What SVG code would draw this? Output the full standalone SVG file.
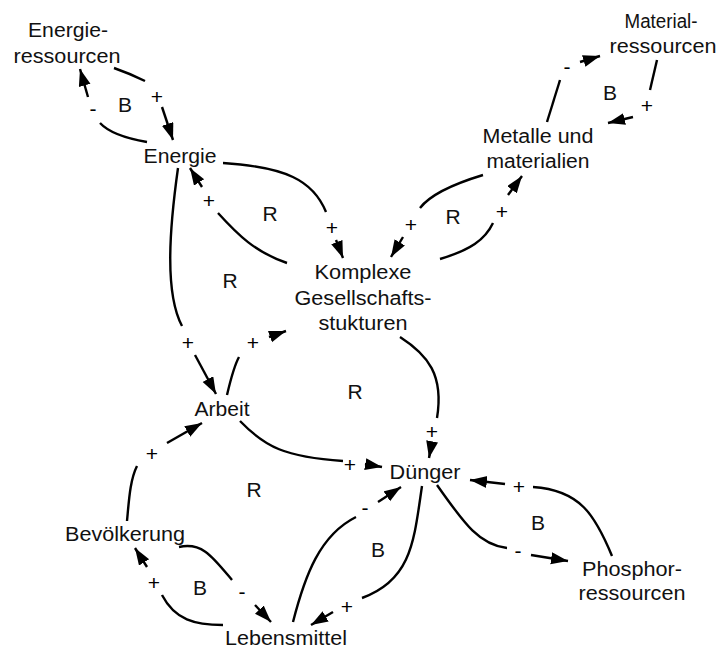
<svg xmlns="http://www.w3.org/2000/svg" width="719" height="648" viewBox="0 0 719 648">
  <defs>
    <marker id="arrow" markerUnits="userSpaceOnUse" markerWidth="19" markerHeight="13" refX="17" refY="6" orient="auto">
      <path d="M0,0 L17,6 L0,12 Z" fill="#000"/>
    </marker>
    <style>
      .node text { font-family: "Liberation Sans", Arial, sans-serif; font-size: 20px; fill: #111; text-anchor: middle; }
      .loop { font-family: "Liberation Sans", Arial, sans-serif; font-size: 21px; fill: #111; text-anchor: middle; }
      .pol { font-family: "Liberation Sans", Arial, sans-serif; font-size: 21px; fill: #000; text-anchor: middle; }
      .edge { fill: none; stroke: #000; stroke-width: 2.4; }
      .tip { fill: none; stroke: #000; stroke-width: 2.4; marker-end: url(#arrow); }
    </style>
  </defs>
  <rect width="719" height="648" fill="#fff"/>

  <!-- connectors: each one is a stroke, a polarity sign, then the arrow -->
  <g id="connectors">
    <!-- Energieressourcen -> Energie -->
    <path class="edge" d="M114,68 Q131,74 145,81"/>
    <text class="pol" x="157" y="104">+</text>
    <path class="tip" d="M162,107 L173,140"/>
    <!-- Energie -> Energieressourcen -->
    <path class="edge" d="M147,142 Q112,136 100,123"/>
    <text class="pol" x="93" y="116">-</text>
    <path class="tip" d="M88,97 L80,69"/>
    <!-- Energie -> Komplexe -->
    <path class="edge" d="M223,163 C285,167 313,180 326,212"/>
    <text class="pol" x="332" y="235">+</text>
    <path class="tip" d="M336,240 L343,258"/>
    <!-- Komplexe -> Energie -->
    <path class="edge" d="M287,263 C255,252 238,235 218,213"/>
    <text class="pol" x="209" y="208">+</text>
    <path class="tip" d="M202,187 L190,168"/>
    <!-- Energie -> Arbeit -->
    <path class="edge" d="M178,168 C170,225 164,292 182,326"/>
    <text class="pol" x="188" y="350">+</text>
    <path class="tip" d="M195,355 L216,394"/>
    <!-- Arbeit -> Komplexe -->
    <path class="edge" d="M227,395 C231,378 234,366 239,357"/>
    <text class="pol" x="253" y="350">+</text>
    <path class="tip" d="M269,337 L286,331"/>
    <!-- Komplexe -> Duenger -->
    <path class="edge" d="M400,337 C428,355 444,375 437,418"/>
    <text class="pol" x="432" y="439">+</text>
    <path class="tip" d="M432,442 L429,458"/>
    <!-- Arbeit -> Duenger -->
    <path class="edge" d="M240,421 C265,447 285,457 343,461"/>
    <text class="pol" x="350" y="472">+</text>
    <path class="tip" d="M365,464 L382,467"/>
    <!-- Bevoelkerung -> Arbeit -->
    <path class="edge" d="M127,521 C129,500 130,480 137,466"/>
    <text class="pol" x="152" y="461">+</text>
    <path class="tip" d="M167,443 L202,423"/>
    <!-- Bevoelkerung -> Lebensmittel -->
    <path class="edge" d="M179,547 C202,542 212,556 232,580"/>
    <text class="pol" x="242" y="599">-</text>
    <path class="tip" d="M255,605 L271,622"/>
    <!-- Lebensmittel -> Bevoelkerung -->
    <path class="edge" d="M223,625 C195,625 175,620 162,595"/>
    <text class="pol" x="154" y="590">+</text>
    <path class="tip" d="M147,567 L135,548"/>
    <!-- Lebensmittel -> Duenger -->
    <path class="edge" d="M293,622 C305,575 320,535 356,517"/>
    <text class="pol" x="365" y="515">-</text>
    <path class="tip" d="M378,502 L401,487"/>
    <!-- Duenger -> Lebensmittel -->
    <path class="edge" d="M422,486 C414,540 412,580 362,598"/>
    <text class="pol" x="347" y="614">+</text>
    <path class="tip" d="M333,612 L311,625"/>
    <!-- Duenger -> Phosphorressourcen -->
    <path class="edge" d="M437,485 C465,525 480,545 507,548"/>
    <text class="pol" x="518" y="558">-</text>
    <path class="tip" d="M531,555 L568,561"/>
    <!-- Phosphorressourcen -> Duenger -->
    <path class="edge" d="M612,556 C595,515 580,490 533,487"/>
    <text class="pol" x="519" y="494">+</text>
    <path class="tip" d="M505,484 L470,480"/>
    <!-- Metalle -> Komplexe -->
    <path class="edge" d="M483,175 C450,185 430,195 420,208"/>
    <text class="pol" x="411" y="232">+</text>
    <path class="tip" d="M403,237 L391,257"/>
    <!-- Komplexe -> Metalle -->
    <path class="edge" d="M440,259 C470,250 485,240 493,223"/>
    <text class="pol" x="502" y="219">+</text>
    <path class="tip" d="M508,195 L522,176"/>
    <!-- Metalle -> Materialressourcen -->
    <path class="edge" d="M547,122 L560,80"/>
    <text class="pol" x="567" y="74">-</text>
    <path class="tip" d="M580,62 L600,56"/>
    <!-- Materialressourcen -> Metalle -->
    <path class="edge" d="M657,60 L650,90"/>
    <text class="pol" x="647" y="113">+</text>
    <path class="tip" d="M633,117 L608,123"/>
  </g>

  <!-- loop markers -->
  <g id="loops">
    <text class="loop" x="125" y="112">B</text>
    <text class="loop" x="610" y="100">B</text>
    <text class="loop" x="270" y="221">R</text>
    <text class="loop" x="230" y="288">R</text>
    <text class="loop" x="453" y="224">R</text>
    <text class="loop" x="355" y="399">R</text>
    <text class="loop" x="254" y="497">R</text>
    <text class="loop" x="378" y="557">B</text>
    <text class="loop" x="200" y="595">B</text>
    <text class="loop" x="538" y="530">B</text>
  </g>

  <!-- nodes -->
  <g id="energieressourcen" class="node">
    <text x="68" y="37" textLength="80" lengthAdjust="spacingAndGlyphs">Energie-</text>
    <text x="67" y="63" textLength="107" lengthAdjust="spacingAndGlyphs">ressourcen</text>
  </g>
  <g id="energie" class="node">
    <text x="180" y="163" textLength="73" lengthAdjust="spacingAndGlyphs">Energie</text>
  </g>
  <g id="materialressourcen" class="node">
    <text x="661" y="28" textLength="73" lengthAdjust="spacingAndGlyphs">Material-</text>
    <text x="663" y="53" textLength="107" lengthAdjust="spacingAndGlyphs">ressourcen</text>
  </g>
  <g id="metalle" class="node">
    <text x="538" y="143" textLength="111" lengthAdjust="spacingAndGlyphs">Metalle und</text>
    <text x="538" y="168" textLength="103" lengthAdjust="spacingAndGlyphs">materialien</text>
  </g>
  <g id="komplexe" class="node">
    <text x="363" y="279" textLength="97" lengthAdjust="spacingAndGlyphs">Komplexe</text>
    <text x="363" y="305" textLength="137" lengthAdjust="spacingAndGlyphs">Gesellschafts-</text>
    <text x="363" y="330" textLength="89" lengthAdjust="spacingAndGlyphs">stukturen</text>
  </g>
  <g id="arbeit" class="node">
    <text x="222" y="416" textLength="55" lengthAdjust="spacingAndGlyphs">Arbeit</text>
  </g>
  <g id="duenger" class="node">
    <text x="425" y="479" textLength="71" lengthAdjust="spacingAndGlyphs">Dünger</text>
  </g>
  <g id="phosphorressourcen" class="node">
    <text x="632" y="576" textLength="100" lengthAdjust="spacingAndGlyphs">Phosphor-</text>
    <text x="632" y="600" textLength="107" lengthAdjust="spacingAndGlyphs">ressourcen</text>
  </g>
  <g id="bevoelkerung" class="node">
    <text x="125" y="541" textLength="120" lengthAdjust="spacingAndGlyphs">Bevölkerung</text>
  </g>
  <g id="lebensmittel" class="node">
    <text x="286" y="645" textLength="122" lengthAdjust="spacingAndGlyphs">Lebensmittel</text>
  </g>
</svg>
